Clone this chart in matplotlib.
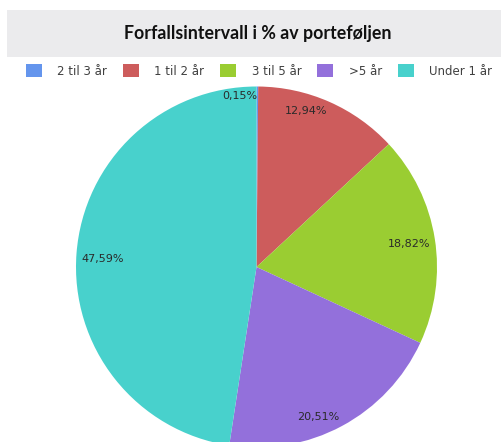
import numpy as np
import matplotlib
matplotlib.use("Agg")
import matplotlib.pyplot as plt
from matplotlib.patches import Rectangle, Patch

title = "Forfallsintervall i % av porteføljen"
categories = ["2 til 3 år", "1 til 2 år", "3 til 5 år", ">5 år", "Under 1 år"]
values = [0.15, 12.94, 18.82, 20.51, 47.59]
labels = ["0,15%", "12,94%", "18,82%", "20,51%", "47,59%"]
colors = ["#6495ED", "#CD5C5C", "#9ACD32", "#9370DB", "#48D1CC"]

W, H = 501, 442
fig = plt.figure(figsize=(W / 100, H / 100), dpi=100)
fig.patch.set_facecolor("white")

# title band
fig.patches.append(Rectangle((7 / W, 1 - 57 / H), 1 - 7 / W, 47 / H,
                             transform=fig.transFigure, facecolor="#EBEBED",
                             edgecolor="none", zorder=0))
fig.text(258 / W, 1 - 34 / H, title, ha="center", va="center",
         fontsize=12.8, fontweight="bold", family=["Lato", "DejaVu Sans"], color="#111111")

# pie axes
cx, cy, r = 256.5, 267.0, 180.5
ax = fig.add_axes([(cx - r) / W, (H - cy - r) / H, 2 * r / W, 2 * r / H])

wedges, _ = ax.pie(values, colors=colors, startangle=90, counterclock=False,
                   radius=1, wedgeprops=dict(linewidth=0))
ax.set_xlim(-1, 1)
ax.set_ylim(-1, 1)
ax.set_aspect("equal")
ax.axis("off")

for w, lab in zip(wedges, labels):
    mid = np.deg2rad((w.theta1 + w.theta2) / 2)
    x, y = 0.975 * np.cos(mid), 0.975 * np.sin(mid)
    ha = "right" if x >= 0 else "left"
    va = "top" if y >= 0 else "bottom"
    ax.text(x, y, lab, ha=ha, va=va, fontsize=8, color="#2a2a2a")

handles = [Patch(facecolor=c, edgecolor="none") for c in colors]
fig.legend(handles, categories, loc="center", bbox_to_anchor=(259 / W, 1 - 71 / H),
           ncol=5, frameon=False, fontsize=8.5, handlelength=1.35, handleheight=1.35,
           handletextpad=1.33, columnspacing=1.33, labelcolor="#404040")

fig.savefig("out.png", dpi=100)
